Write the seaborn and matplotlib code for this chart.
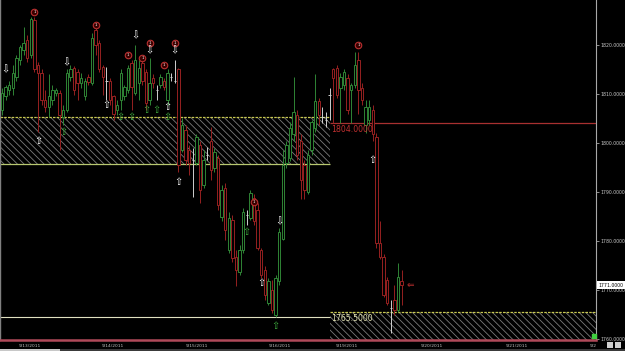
import numpy as np
import pandas as pd
import matplotlib
matplotlib.use("Agg")
import matplotlib.pyplot as plt
import matplotlib.transforms as mtransforms
from matplotlib.patches import Rectangle
import seaborn as sns

# ---------------- data ----------------
opens = [1806.75, 1809.5, 1810.75, 1811.25, 1813.5, 1817.0, 1819.0, 1821.0, 1818.0, 1825.0,
         1816.0, 1814.25, 1808.75, 1807.25, 1808.75, 1810.25, 1810.25, 1805.25, 1806.75, 1813.5,
         1815.25, 1814.5, 1812.25, 1809.5, 1813.5, 1812.25, 1823.0, 1820.5, 1815.5, 1812.75,
         1812.75, 1809.5, 1806.75, 1808.75, 1809.5, 1810.75, 1816.25, 1810.25, 1812.25, 1816.25,
         1814.5, 1808.75, 1813.25, 1810.75, 1811.75, 1812.75, 1808.75, 1813.5, 1812.75, 1815.0,
         1798.5, 1802.75, 1798.5, 1796.5, 1796.0, 1799.5, 1791.5, 1797.5, 1800.5, 1795.0,
         1797.0, 1785.0, 1790.75, 1778.25, 1784.25, 1776.75, 1773.75, 1778.25, 1785.25, 1784.75,
         1788.75, 1786.25, 1778.25, 1774.0, 1767.25, 1770.0, 1765.0, 1771.75, 1780.5, 1796.0,
         1797.0, 1801.75, 1805.75, 1800.5, 1795.5, 1790.0, 1798.5, 1803.0, 1808.5, 1805.25,
         1804.75, 1809.75, 1815.0, 1815.25, 1811.25, 1811.75, 1813.25, 1810.75, 1811.75, 1817.0,
         1811.25, 1803.75, 1804.75, 1806.75, 1801.25, 1779.5, 1776.75, 1772.0, 1766.25, 1768.0,
         1766.0, 1771.75]
highs = [1811.25, 1811.75, 1812.75, 1816.0, 1818.0, 1820.0, 1823.75, 1822.0, 1825.75, 1825.75,
         1816.5, 1815.0, 1810.75, 1814.0, 1811.75, 1811.25, 1810.75, 1807.75, 1815.0, 1816.0,
         1815.75, 1815.0, 1814.25, 1813.25, 1814.0, 1822.5, 1823.5, 1821.0, 1816.0, 1815.5,
         1813.25, 1809.75, 1808.75, 1815.0, 1811.75, 1816.0, 1817.0, 1820.0, 1817.0, 1817.0,
         1815.0, 1817.25, 1814.0, 1811.75, 1814.0, 1813.25, 1815.0, 1814.25, 1817.0, 1815.25,
         1805.0, 1803.75, 1799.5, 1799.0, 1801.75, 1800.5, 1798.5, 1799.25, 1803.25, 1799.0,
         1797.5, 1791.5, 1791.75, 1786.0, 1785.25, 1778.25, 1779.25, 1786.75, 1786.25, 1790.5,
         1789.5, 1787.75, 1778.5, 1775.0, 1772.5, 1772.0, 1773.0, 1782.75, 1798.5, 1800.5,
         1804.25, 1813.5, 1806.75, 1801.75, 1796.5, 1798.5, 1804.75, 1814.0, 1809.25, 1807.25,
         1806.25, 1811.25, 1815.25, 1816.0, 1814.25, 1815.0, 1814.0, 1812.25, 1818.5, 1818.5,
         1812.25, 1808.75, 1808.75, 1807.75, 1802.0, 1784.0, 1777.25, 1772.75, 1768.0, 1771.0,
         1775.5, 1774.0]
lows = [1805.75, 1808.75, 1809.75, 1809.75, 1812.75, 1816.0, 1818.0, 1816.5, 1817.25, 1814.5,
        1802.25, 1807.75, 1806.25, 1805.25, 1807.75, 1809.5, 1798.5, 1803.75, 1806.25, 1812.75,
        1809.75, 1808.75, 1811.25, 1808.75, 1811.75, 1811.75, 1818.0, 1814.5, 1809.75, 1808.75,
        1807.75, 1804.75, 1805.75, 1806.75, 1808.75, 1810.25, 1806.75, 1809.75, 1808.75, 1811.75,
        1806.75, 1807.75, 1811.25, 1808.75, 1811.25, 1810.75, 1807.75, 1812.75, 1812.25, 1794.0,
        1798.25, 1795.5, 1793.5, 1789.0, 1795.5, 1787.75, 1790.75, 1796.5, 1792.5, 1794.0,
        1786.25, 1784.0, 1780.25, 1777.5, 1775.75, 1770.75, 1773.0, 1777.5, 1783.25, 1784.25,
        1783.25, 1778.25, 1772.5, 1768.0, 1767.0, 1765.25, 1764.5, 1771.0, 1780.25, 1795.0,
        1796.25, 1800.5, 1796.5, 1788.5, 1788.5, 1789.5, 1797.5, 1802.25, 1803.75, 1804.0,
        1803.25, 1804.75, 1804.0, 1809.25, 1804.0, 1810.75, 1806.0, 1804.0, 1811.25, 1806.0,
        1807.75, 1802.0, 1803.75, 1800.5, 1778.5, 1776.25, 1768.5, 1767.0, 1761.25, 1765.0,
        1765.5, 1767.0]
closes = [1810.25, 1811.5, 1811.75, 1814.25, 1817.25, 1819.5, 1820.5, 1817.25, 1825.25, 1815.0,
          1814.25, 1808.75, 1807.25, 1809.5, 1810.75, 1810.75, 1805.75, 1806.75, 1814.25, 1815.0,
          1810.75, 1812.25, 1813.25, 1812.75, 1812.5, 1821.5, 1820.0, 1815.0, 1813.5, 1812.75,
          1808.75, 1806.0, 1807.75, 1814.25, 1811.5, 1815.25, 1811.5, 1817.0, 1815.25, 1812.75,
          1808.25, 1812.25, 1812.25, 1810.75, 1813.5, 1811.5, 1814.25, 1813.5, 1812.75, 1795.5,
          1803.75, 1796.5, 1796.0, 1796.5, 1801.25, 1790.5, 1796.5, 1797.5, 1794.5, 1798.25,
          1787.25, 1790.5, 1782.25, 1784.75, 1776.5, 1774.0, 1778.25, 1786.0, 1785.25, 1789.75,
          1784.0, 1778.5, 1773.0, 1769.0, 1771.75, 1766.0, 1772.5, 1781.75, 1795.5, 1799.5,
          1803.0, 1806.25, 1797.5, 1792.5, 1790.5, 1797.5, 1804.25, 1808.5, 1805.75, 1805.25,
          1804.75, 1809.75, 1813.25, 1809.75, 1813.5, 1814.5, 1806.75, 1811.75, 1816.0, 1810.75,
          1808.75, 1807.25, 1807.25, 1801.75, 1779.5, 1776.75, 1769.0, 1767.25, 1766.25, 1766.0,
          1772.75, 1771.0]

date_labels = ["9/13/2011", "9/14/2011", "9/15/2011", "9/16/2011",
               "9/19/2011", "9/20/2011", "9/21/2011", "9/2"]
date_bars = [7.8, 30.8, 54.2, 77.2, 95.8, 119.4, 143.1, 164.2]
price_ticks = [1760, 1770, 1780, 1790, 1800, 1810, 1820]

zone_upper = [1795.75, 1805.25]
zone_lower = [1759.8, 1765.5]
zone_split_bar = 91.1
resistance_level = 1804.0
session_low = 1764.5
last_price = 1771.0

sell_bars = [9, 26, 35, 39, 41, 45, 48, 70, 99]
sell_prices = [1826.75, 1824.0, 1818.0, 1817.25, 1820.5, 1816.0, 1820.5, 1788.0, 1820.0]
down_bars = [1, 18, 37, 41, 48, 77]
down_prices = [1815.0, 1816.5, 1822.0, 1819.0, 1819.0, 1784.0]
up_bars = [10, 29, 46, 49, 72, 103]
up_prices = [1800.5, 1807.75, 1807.25, 1792.0, 1771.5, 1796.5]
green_bars = [17, 33, 36, 40, 43, 46, 68, 76]
green_prices = [1802.25, 1805.25, 1805.25, 1806.75, 1806.75, 1805.25, 1781.75, 1762.75]

# ---------------- style ----------------
sns.set_theme(style="dark", rc={
    "figure.facecolor": "black", "axes.facecolor": "black",
    "savefig.facecolor": "black", "axes.grid": False,
    "hatch.linewidth": 0.6, "hatch.color": "#7a7a7a",
})
plt.rcParams["font.family"] = ["DejaVu Sans"]

GREEN = "#2f8535"
RED = "#962020"
DOJI = "#d0d0d0"

df = pd.DataFrame({"o": opens, "h": highs, "l": lows, "c": closes})
df["bar"] = np.arange(len(df))
df["color"] = np.where(df.c > df.o, GREEN, np.where(df.c < df.o, RED, DOJI))

fig = plt.figure(figsize=(6.25, 3.51), dpi=100)
ax = fig.add_axes([0.0, 11 / 351, 596 / 625, 340 / 351])

xmin, xmax = -0.556, 165.0
ax.set_xlim(xmin, xmax)
ax.set_ylim(1759.8, 1829.18)

# zones
ax.add_patch(Rectangle((xmin, zone_upper[0]), zone_split_bar - xmin, zone_upper[1] - zone_upper[0],
                       facecolor="black", edgecolor="#7a7a7a", hatch="\\\\\\\\\\", lw=0, zorder=1))
ax.add_patch(Rectangle((zone_split_bar, zone_lower[0]), xmax - zone_split_bar, zone_lower[1] - zone_lower[0],
                       facecolor="black", edgecolor="#7a7a7a", hatch="\\\\\\\\\\", lw=0, zorder=1))
ax.hlines([zone_upper[1]], xmin, zone_split_bar, colors="#c8c850", lw=0.9, linestyles=(0, (2, 1)), zorder=1.5)
ax.hlines([zone_upper[0]], xmin, zone_split_bar, colors="#b8c870", lw=0.9, zorder=1.5)
ax.hlines([zone_lower[1]], zone_split_bar, xmax, colors="#c8c850", lw=0.9, linestyles=(0, (2, 1)), zorder=1.5)
ax.hlines([session_low], xmin, zone_split_bar, colors="#e0e0c0", lw=0.8, zorder=1.5)
ax.hlines([resistance_level], zone_split_bar, xmax, colors="#a83030", lw=0.9, zorder=1.5)
ax.text(zone_split_bar + 0.4, resistance_level - 0.35, f"{resistance_level:.4f}", color="#c03030",
        fontsize=5.6, ha="left", va="top", zorder=6)
ax.text(zone_split_bar + 0.4, zone_lower[1] - 0.3, f"{zone_lower[1]:.4f}", color="#e0e0b0",
        fontsize=5.6, ha="left", va="top", zorder=6)

# candles
ax.vlines(df.bar, df.l, df.h, colors=df.color, lw=0.7, zorder=2)
body_low = np.minimum(df.o, df.c)
body_h = np.abs(df.c - df.o)
ax.bar(df.bar, body_h, bottom=body_low, width=0.72, facecolor="black",
       edgecolor=df.color, linewidth=0.7, zorder=3)

# signals
sig = pd.DataFrame({"bar": sell_bars, "price": sell_prices})
sns.scatterplot(data=sig, x="bar", y="price", ax=ax, marker="o", s=22,
                facecolor="#3a0000", edgecolor="#b83030", linewidth=0.8, zorder=5, legend=False)
for b, p in zip(sell_bars, sell_prices):
    ax.text(b, p, "1", color="white", fontsize=2.8, ha="center", va="center", zorder=6)
for b, p in zip(down_bars, down_prices):
    ax.text(b, p, "\u21e9", color="white", fontsize=7, ha="center", va="center", zorder=5)
for b, p in zip(up_bars, up_prices):
    ax.text(b, p, "\u21e7", color="white", fontsize=7, ha="center", va="center", zorder=5)
for b, p in zip(green_bars, green_prices):
    ax.text(b, p, "\u21e7", color="#3fae3f", fontsize=7, ha="center", va="center", zorder=5)
ax.text(len(df) + 1.5, last_price, "\u21d0", color="#c03030", fontsize=6.5, ha="center", va="center", zorder=5)

# axes styling
ax.yaxis.tick_right()
ax.set_yticks(price_ticks)
ax.set_yticklabels([f"{t:.4f}" for t in price_ticks])
ax.tick_params(axis="y", colors="#c8c8c8", labelsize=3.3, length=2, width=0.5, pad=1.5, direction="out")
ax.set_xticks(date_bars)
ax.set_xticklabels(date_labels)
ax.tick_params(axis="x", colors="#c0c0c0", labelsize=3.2, length=0, pad=2.6)
ax.spines["top"].set_visible(False)
ax.spines["right"].set_color("#a8a8a8")
ax.spines["right"].set_linewidth(0.8)
ax.spines["left"].set_color("#808080")
ax.spines["left"].set_linewidth(1.0)
ax.spines["bottom"].set_color("#b04a5a")
ax.spines["bottom"].set_linewidth(1.8)
ax.spines["bottom"].set_linestyle((0, (1, 1)))
ax.set_xlabel("")
ax.set_ylabel("")

# last price box
trans = mtransforms.blended_transform_factory(ax.transAxes, ax.transData)
ax.text(1.004, last_price, f"{last_price:.4f}", transform=trans, ha="left", va="center",
        fontsize=3.3, color="black", zorder=7, clip_on=False,
        bbox=dict(facecolor="white", edgecolor="none", pad=0.9))
ax.scatter([0.997], [1760.6], transform=trans, marker="s", s=10, color="#40d040", zorder=7, clip_on=False)

# bottom scrollbar strip
fig.add_artist(Rectangle((0, 0), 1, 2 / 351, transform=fig.transFigure, facecolor="#3a3a3a", edgecolor="none"))
fig.add_artist(Rectangle((0, 0), 60 / 625, 2 / 351, transform=fig.transFigure, facecolor="#c8c8c8", edgecolor="none"))
fig.add_artist(Rectangle((607 / 625, 3 / 351), 6 / 625, 6 / 351, transform=fig.transFigure,
                         facecolor="#d0d0d0", edgecolor="none"))
fig.add_artist(Rectangle((615 / 625, 3 / 351), 6 / 625, 6 / 351, transform=fig.transFigure,
                         facecolor="#d0d0d0", edgecolor="none"))

fig.savefig("out.png", dpi=100, facecolor="black")
